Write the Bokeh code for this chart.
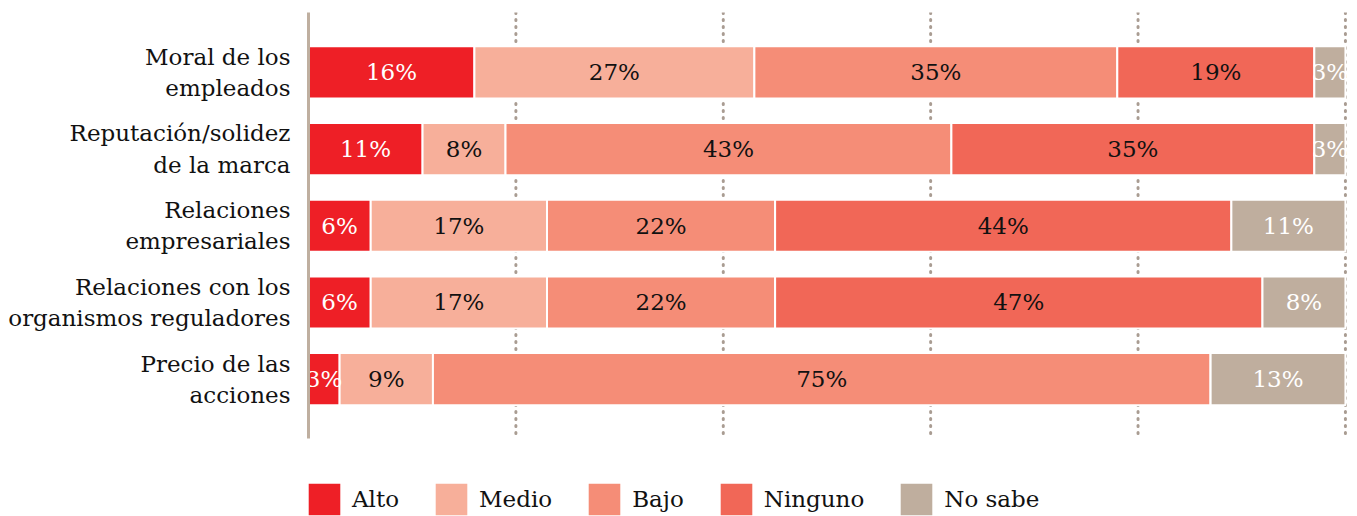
from bokeh.plotting import figure
from bokeh.models import Range1d, FixedTicker, Legend, LegendItem, ColumnDataSource
from bokeh.core.properties import value
from bokeh.embed import file_html
from bokeh.resources import INLINE

categories = [
    "Moral de los\nempleados",
    "Reputación/solidez\nde la marca",
    "Relaciones\nempresariales",
    "Relaciones con los\norganismos reguladores",
    "Precio de las\nacciones",
]
series = ["Alto", "Medio", "Bajo", "Ninguno", "No sabe"]
alto = [16, 11, 6, 6, 3]
medio = [27, 8, 17, 17, 9]
bajo = [35, 43, 22, 22, 75]
ninguno = [19, 35, 44, 47, 0]
no_sabe = [3, 3, 11, 8, 13]
grid_ticks = [20, 40, 60, 80, 100]
colors = ["#EE1F26", "#F7AF9A", "#F58D77", "#F16757", "#BFAE9E"]
label_colors = ["white", "#111111", "#111111", "#111111", "white"]

FONT = "DejaVu Serif"
Y_TOP, Y_BOT, Y_END = -0.78, 4.77, 5.79

values = [alto, medio, bajo, ninguno, no_sabe]
ypos = list(range(len(categories)))
data = {"y": ypos}
for s, v in zip(series, values):
    data[s] = v
src = ColumnDataSource(data)

p = figure(
    width=1357, height=516,
    x_range=Range1d(0, 100.2), y_range=Range1d(Y_END, Y_TOP),
    output_backend="svg", toolbar_location=None,
    min_border_left=308, min_border_right=10, min_border_top=12, min_border_bottom=0,
)
p.outline_line_color = None
p.xgrid.grid_line_color = None
p.ygrid.grid_line_color = None

# dotted vertical grid lines (limited to the bar area)
p.segment(x0=grid_ticks, y0=[Y_TOP] * len(grid_ticks), x1=grid_ticks, y1=[Y_BOT] * len(grid_ticks),
          line_color="#A99C92", line_width=3, line_dash="1 6", line_cap="round")

renderers = p.hbar_stack(series, y="y", height=0.68, fill_color=colors,
                         line_color="white", line_width=2, source=src)

# segment labels
lx, ly, lt, lc = [], [], [], []
for i in range(len(categories)):
    cum = 0
    for k, v in enumerate(values):
        val = v[i]
        if val > 0:
            lx.append(cum + val / 2)
            ly.append(i)
            lt.append(f"{val}%")
            lc.append(label_colors[k])
        cum += val
p.text(x="x", y="y", text="t", text_color="c", source=ColumnDataSource(dict(x=lx, y=ly, t=lt, c=lc)),
       text_align="center", text_baseline="middle", text_font=value(FONT), text_font_size="23px")

p.xaxis.visible = False
p.yaxis.ticker = FixedTicker(ticks=ypos)
p.yaxis.bounds = (Y_TOP, Y_BOT)
p.yaxis.major_label_overrides = {i: c for i, c in zip(ypos, categories)}
p.yaxis.axis_line_color = "#BFAFA0"
p.yaxis.axis_line_width = 3
p.yaxis.major_tick_line_color = None
p.yaxis.minor_tick_line_color = None
p.yaxis.major_label_text_font = FONT
p.yaxis.major_label_text_font_size = "23px"
p.yaxis.major_label_text_color = "#111111"
p.yaxis.major_label_standoff = 12

items = [LegendItem(label=s, renderers=[r]) for s, r in zip(series, renderers)]
legend = Legend(items=items, orientation="horizontal", location=(-5, -4),
                glyph_width=42, glyph_height=42, label_standoff=7, spacing=31,
                padding=0, margin=0, border_line_color=None, background_fill_alpha=0,
                label_text_font=FONT, label_text_font_size="23px", label_text_color="#111111")
p.add_layout(legend)

open("out.html", "w").write(file_html(p, INLINE))
